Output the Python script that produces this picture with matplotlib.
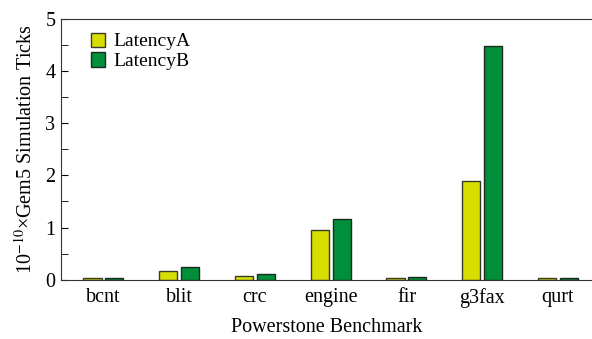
import matplotlib
matplotlib.use("Agg")
import matplotlib.pyplot as plt
import numpy as np

# Powerstone benchmarks (x 1e10 ticks)
benchmarks = ["bcnt", "blit", "crc", "engine", "fir", "g3fax", "qurt"]
latency_a = [0.03, 0.17, 0.08, 0.96, 0.04, 1.90, 0.03]
latency_b = [0.03, 0.24, 0.10, 1.17, 0.06, 4.49, 0.03]

plt.rcParams["font.family"] = ["Liberation Serif", "DejaVu Serif"]
plt.rcParams["mathtext.fontset"] = "stix"

fig, ax = plt.subplots(figsize=(5.92, 3.39), dpi=100)
fig.subplots_adjust(left=0.103, right=1.0, top=0.944, bottom=0.175)

x = np.arange(len(benchmarks))
w = 0.24
ax.bar(x - 0.145, latency_a, w, color="#d8df00", edgecolor="#3a3a2a", linewidth=1.0, label="LatencyA")
ax.bar(x + 0.145, latency_b, w, color="#008f3a", edgecolor="#1e2a20", linewidth=1.0, label="LatencyB")

ax.set_xlim(-0.56, 6.45)
ax.set_ylim(0, 5)
ax.set_xticks(x)
ax.set_xticklabels(benchmarks, fontsize=14.5)
ax.tick_params(axis="x", length=0, pad=6)
ax.set_yticks(range(6))
ax.set_yticks(np.arange(0.5, 5, 1), minor=True)
ax.tick_params(axis="y", which="both", direction="in", labelsize=14.5, length=5, pad=4)
ax.spines["right"].set_visible(False)
for s in ["left", "top", "bottom"]:
    ax.spines[s].set_color("#333333")

ax.set_ylabel(r"10$^{-10}$×Gem5 Simulation Ticks", fontsize=14.5, labelpad=6)
ax.set_xlabel("Powerstone Benchmark", fontsize=14.5, labelpad=7)

ax.legend(loc="upper left", frameon=False, fontsize=14, handlelength=0.75, handleheight=0.75,
          handletextpad=0.45, labelspacing=0.1, borderaxespad=0.3, bbox_to_anchor=(0.03, 1.0))

fig.savefig("out.png", dpi=100)
